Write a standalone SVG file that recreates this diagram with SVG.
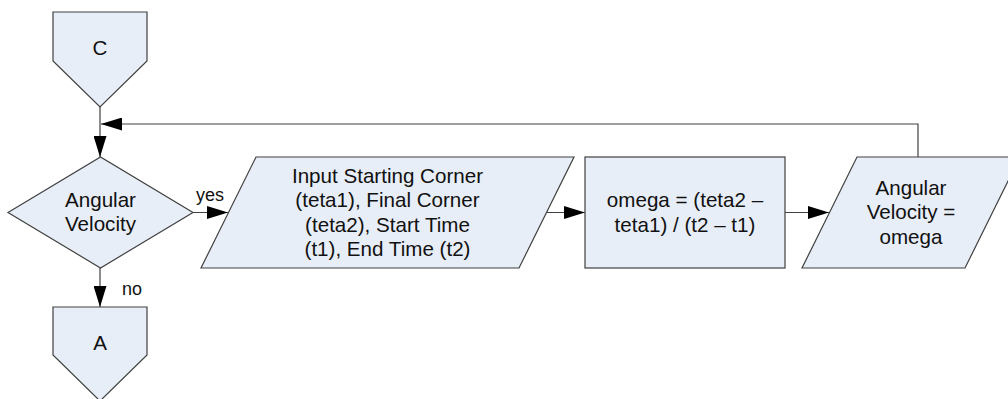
<svg xmlns="http://www.w3.org/2000/svg" width="1008" height="399" viewBox="0 0 1008 399">
<defs>
<style>
.shape{fill:#E8EEF7;stroke:#404040;stroke-width:1.2}
.t{font-family:"Liberation Sans",Arial,sans-serif;font-size:20.6px;fill:#111;text-anchor:middle}
.lbl{font-family:"Liberation Sans",Arial,sans-serif;font-size:18px;fill:#111}
.conn{fill:none;stroke:#404040;stroke-width:1.2}
</style>
<marker id="arr" markerUnits="userSpaceOnUse" markerWidth="21" markerHeight="13" refX="21" refY="6.5" orient="auto">
<path d="M0,0 L21,6.5 L0,13 z" fill="#000"/>
</marker>
</defs>
<rect width="1008" height="399" fill="#fff"/>
<g id="connectors">
<line class="conn" x1="100" y1="107" x2="100" y2="157" marker-end="url(#arr)"/>
<polyline class="conn" points="918,160 918,124 101,124" marker-end="url(#arr)"/>
<line class="conn" x1="193" y1="212.5" x2="228" y2="212.5" marker-end="url(#arr)"/>
<line class="conn" x1="547" y1="212.5" x2="585" y2="212.5" marker-end="url(#arr)"/>
<line class="conn" x1="785" y1="212.5" x2="829" y2="212.5" marker-end="url(#arr)"/>
<line class="conn" x1="100" y1="268" x2="100" y2="307" marker-end="url(#arr)"/>
<text class="lbl" x="196" y="201">yes</text>
<text class="lbl" x="122" y="295">no</text>
</g>
<g id="nodeC">
<polygon class="shape" points="53,12 147,12 147,61 100,107 53,61"/>
<text class="t" x="100" y="54.5">C</text>
</g>
<g id="decision">
<polygon class="shape" points="8,212.5 100.5,157 193,212.5 100.5,268"/>
<text class="t" x="100.5" y="206.5">Angular</text>
<text class="t" x="100.5" y="231">Velocity</text>
</g>
<g id="input">
<polygon class="shape" points="256,157 574,157 519,268 201,268"/>
<text class="t" x="387.5" y="182.5">Input Starting Corner</text>
<text class="t" x="387.5" y="207.1">(teta1), Final Corner</text>
<text class="t" x="387.5" y="231.7">(teta2), Start Time</text>
<text class="t" x="387.5" y="256.3">(t1), End Time (t2)</text>
</g>
<g id="compute">
<rect class="shape" x="585" y="157" width="200" height="111"/>
<text class="t" x="685" y="207.3">omega = (teta2 –</text>
<text class="t" x="685" y="231.7">teta1) / (t2 – t1)</text>
</g>
<g id="output">
<polygon class="shape" points="857,157 1020,157 965,268 802,268"/>
<text class="t" x="911" y="194.5">Angular</text>
<text class="t" x="911" y="219">Velocity =</text>
<text class="t" x="911" y="243.5">omega</text>
</g>
<g id="nodeA">
<polygon class="shape" points="53,307 147,307 147,355 100,401 53,355"/>
<text class="t" x="100" y="350">A</text>
</g>
</svg>
